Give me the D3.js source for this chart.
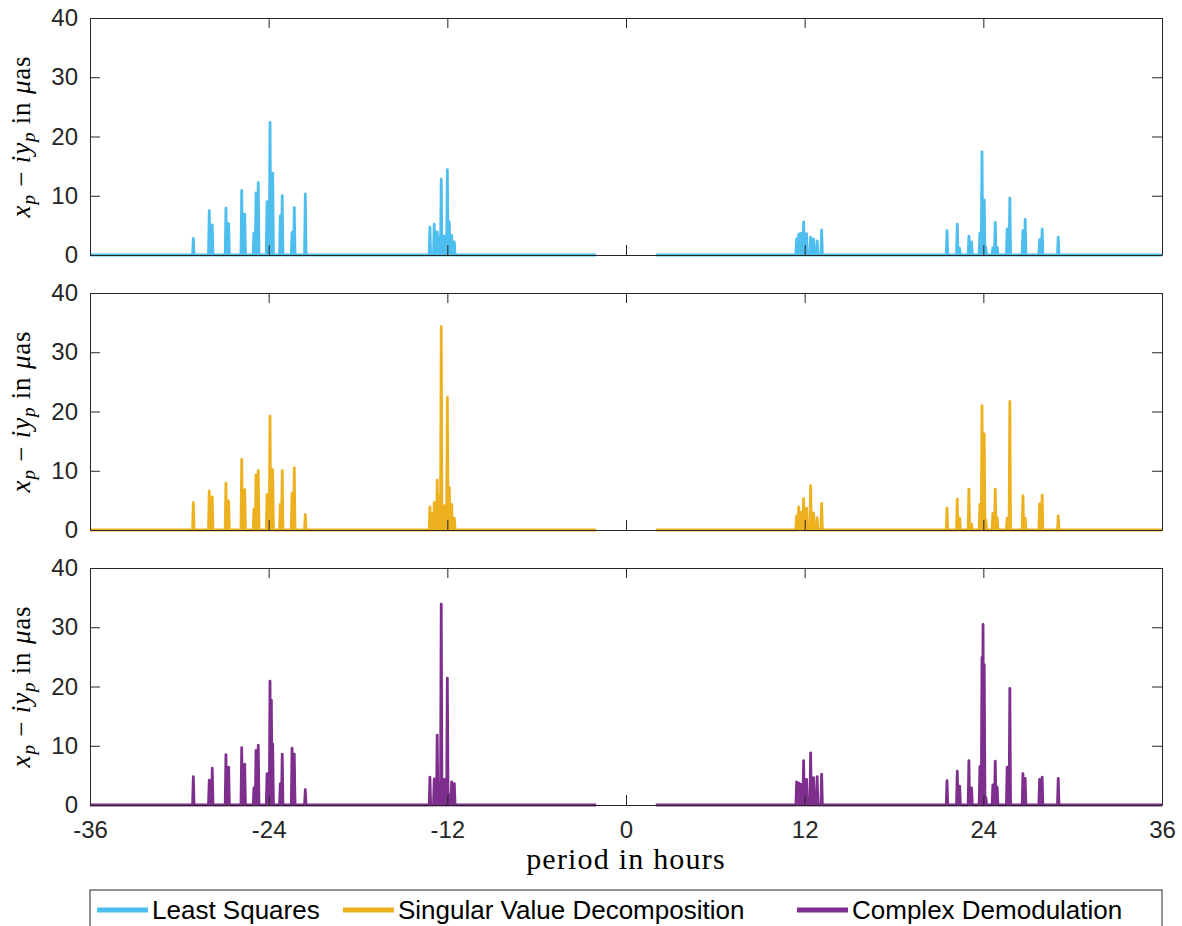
<!DOCTYPE html>
<html>
<head>
<meta charset="utf-8">
<script src="https://cdn.jsdelivr.net/npm/d3@7"></script>
<style>
  body { margin: 0; background: #fff; }
  svg { display: block; }
</style>
</head>
<body>
<div id="chart"></div>
<script>
  // periods (hours) of the spectral lines, shared by the three panels
  var periods = [-29.06, -27.99, -27.79, -26.87, -26.69, -25.81, -25.61, -24.99, -24.85, -24.70,
    -24.11, -23.91, -23.82, -23.73, -23.22, -23.09, -22.43, -22.28, -21.54,
    -13.17, -13.02, -12.88, -12.68, -12.54, -12.41, -12.21, -12.00, -11.87, -11.71, -11.53,
    11.46, 11.60, 11.73, 11.93, 12.13, 12.40, 12.60, 12.84, 13.14,
    21.56, 22.25, 22.41, 23.03, 23.21, 23.77, 23.91, 23.98, 24.06, 24.17,
    24.64, 24.80, 24.93, 25.60, 25.78, 26.66, 26.81, 27.78, 27.95, 29.03];

  // amplitudes in micro-arcseconds
  var leastSquares = [2.8, 7.5, 5.1, 7.9, 5.3, 10.9, 6.9, 3.7, 10.5, 12.2,
    9.0, 22.4, 0, 13.8, 6.6, 10.0, 3.8, 8.0, 10.3,
    4.7, 0, 5.2, 3.9, 3.0, 12.8, 3.2, 14.4, 5.6, 3.3, 2.2,
    2.7, 3.5, 3.7, 5.6, 3.6, 3.0, 2.7, 2.4, 4.2,
    4.1, 5.2, 1.1, 3.2, 2.2, 3.7, 17.4, 0, 9.3, 1.3,
    1.2, 5.5, 1.3, 4.4, 9.6, 4.1, 6.0, 2.6, 4.4, 3.0];

  var svd = [4.6, 6.6, 5.6, 7.9, 4.9, 11.9, 6.8, 3.5, 9.3, 10.0,
    6.0, 19.2, 0, 10.2, 4.3, 10.0, 6.2, 10.5, 2.6,
    3.9, 2.8, 4.6, 8.4, 5.9, 34.3, 4.1, 22.4, 7.2, 4.3, 2.0,
    2.4, 3.9, 3.0, 5.3, 3.7, 7.5, 2.9, 2.1, 4.5,
    3.7, 5.2, 2.0, 6.9, 1.0, 4.3, 21.0, 0, 16.2, 1.7,
    2.8, 6.9, 2.1, 2.0, 21.7, 5.8, 2.0, 4.4, 5.9, 2.4];

  var complexDemod = [4.8, 4.2, 6.2, 8.5, 6.4, 9.7, 6.9, 2.9, 9.2, 10.1,
    5.3, 20.9, 17.7, 10.3, 3.6, 8.6, 9.6, 8.6, 2.6,
    4.7, 0, 4.4, 11.8, 3.0, 33.9, 4.3, 21.4, 1.8, 3.9, 3.6,
    3.9, 3.7, 3.5, 7.5, 4.3, 8.8, 4.6, 4.8, 5.2,
    4.1, 5.7, 3.2, 7.5, 2.9, 6.5, 24.9, 30.5, 23.7, 1.3,
    3.4, 7.4, 3.0, 6.4, 19.7, 5.3, 4.5, 4.3, 4.7, 4.5];

  var seriesNames = ["Least Squares", "Singular Value Decomposition", "Complex Demodulation"];
  var seriesValues = [leastSquares, svd, complexDemod];
  var colors = ["#4DBEEE", "#EDB120", "#7E2F8E"];

  // the spectrum is computed on two ranges, with a gap around zero
  var ranges = [[-36, -2], [2, 36]];
  var xTicks = [-36, -24, -12, 0, 12, 24, 36];
  var yTicks = [0, 10, 20, 30, 40];

  var W = 1182, H = 926;
  var margin = { left: 90, right: 20, top: 18 };
  var panelH = 237, panelGap = 38;
  var width = W - margin.left - margin.right;
  var tickLen = 10;
  var halfWidth = 0.05; // half base of a spike, in hours

  var svg = d3.select("#chart").append("svg")
    .attr("width", W)
    .attr("height", H);

  var x = d3.scaleLinear().domain([-36, 36]).range([0, width]);
  var y = d3.scaleLinear().domain([0, 40]).range([panelH, 0]);

  var line = d3.line()
    .x(function (d) { return x(d[0]); })
    .y(function (d) { return y(d[1]); });

  function segments(values) {
    return ranges.map(function (r) {
      var pts = [[r[0], 0]];
      periods.forEach(function (p, i) {
        if (p > r[0] && p < r[1] && values[i] > 0) {
          pts.push([p - halfWidth, 0], [p, values[i]], [p + halfWidth, 0]);
        }
      });
      pts.push([r[1], 0]);
      return pts;
    });
  }

  seriesValues.forEach(function (values, k) {
    var g = svg.append("g")
      .attr("transform", "translate(" + margin.left + "," + (margin.top + k * (panelH + panelGap)) + ")");

    // data line
    g.selectAll("path.spec")
      .data(segments(values))
      .enter()
      .append("path")
      .attr("class", "spec")
      .attr("d", line)
      .attr("fill", "none")
      .attr("stroke", colors[k])
      .attr("stroke-width", 2.8)
      .attr("stroke-linejoin", "round");

    // axes, MATLAB style: ticks pointing inwards, box around
    var axisColor = "#262626";
    var left = g.append("g").call(d3.axisLeft(y).tickValues(yTicks).tickSizeInner(-tickLen).tickSizeOuter(0).tickPadding(12));
    var right = g.append("g").attr("transform", "translate(" + width + ",0)")
      .call(d3.axisRight(y).tickValues(yTicks).tickSizeInner(-tickLen).tickSizeOuter(0).tickFormat(""));
    var bottom = g.append("g").attr("transform", "translate(0," + panelH + ")")
      .call(d3.axisBottom(x).tickValues(xTicks).tickSizeInner(-tickLen).tickSizeOuter(0).tickPadding(16)
        .tickFormat(k === 2 ? d3.format("d") : ""));
    var top = g.append("g")
      .call(d3.axisTop(x).tickValues(xTicks).tickSizeInner(-tickLen).tickSizeOuter(0).tickFormat(""));

    [left, right, bottom, top].forEach(function (a) {
      a.select(".domain").attr("stroke", axisColor).attr("stroke-width", 1);
      a.selectAll(".tick line").attr("stroke", axisColor).attr("stroke-width", 1);
      a.selectAll(".tick text")
        .attr("fill", axisColor)
        .style("font-family", "'Liberation Sans', Arial, sans-serif")
        .style("font-size", "24px");
    });
    bottom.selectAll(".tick text").text(function (d) { return d3.format("d")(d).replace("\u2212", "-"); });
    if (k !== 2) bottom.selectAll(".tick text").remove();

    // y label: x_p - i y_p in mu as
    var lab = g.append("text")
      .attr("transform", "translate(-60," + panelH / 2 + ") rotate(-90)")
      .attr("text-anchor", "middle")
      .attr("fill", "#000")
      .style("font-family", "'Liberation Serif', 'DejaVu Serif', serif")
      .style("font-size", "27px")
      .style("letter-spacing", "0.8px");
    lab.append("tspan").style("font-style", "italic").text("x");
    lab.append("tspan").style("font-style", "italic").style("font-size", "19px").attr("dy", 5).text("p");
    lab.append("tspan").attr("dy", -5).text(" \u2212 ");
    lab.append("tspan").style("font-style", "italic").text("iy");
    lab.append("tspan").style("font-style", "italic").style("font-size", "19px").attr("dy", 5).text("p");
    lab.append("tspan").attr("dy", -5).text(" in ");
    lab.append("tspan").style("font-style", "italic").text("\u03BC");
    lab.append("tspan").text("as");
  });

  // x label
  svg.append("text")
    .attr("x", margin.left + width / 2)
    .attr("y", 869)
    .attr("text-anchor", "middle")
    .attr("fill", "#000")
    .style("font-family", "'Liberation Serif', 'DejaVu Serif', serif")
    .style("font-size", "30px")
    .style("letter-spacing", "1.2px")
    .text("period in hours");

  // legend
  var legY = 890;
  var legend = svg.append("g");
  legend.append("rect")
    .attr("x", margin.left)
    .attr("y", legY)
    .attr("width", width)
    .attr("height", 50)
    .attr("fill", "#fff")
    .attr("stroke", "#262626")
    .attr("stroke-width", 1);

  var legX = [97, 343, 797];
  seriesNames.forEach(function (name, k) {
    legend.append("line")
      .attr("x1", legX[k]).attr("x2", legX[k] + 51)
      .attr("y1", legY + 20).attr("y2", legY + 20)
      .attr("stroke", colors[k])
      .attr("stroke-width", 5);
    legend.append("text")
      .attr("x", legX[k] + 55)
      .attr("y", legY + 29)
      .attr("fill", "#000")
      .style("font-family", "'Liberation Sans', Arial, sans-serif")
      .style("font-size", "26px")
      .text(name);
  });
</script>
</body>
</html>
